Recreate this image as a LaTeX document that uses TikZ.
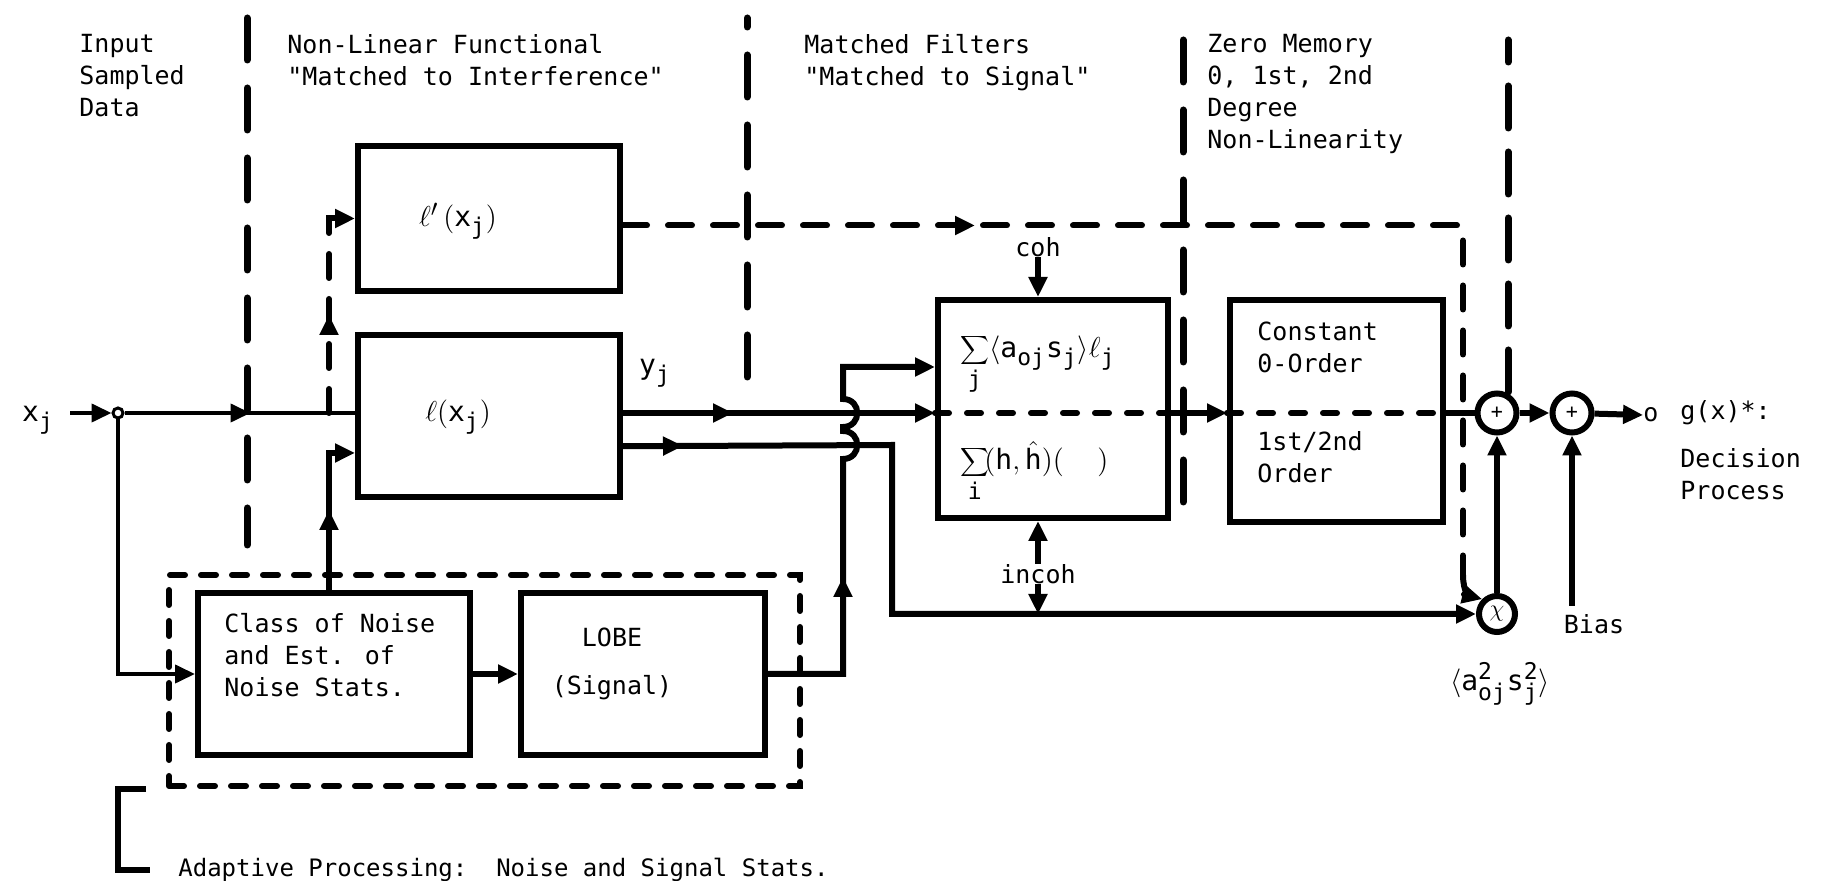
\documentclass[tikz,border=0pt]{standalone}
\usepackage{fontspec}
\setmainfont{DejaVu Sans Mono}
\usetikzlibrary{arrows.meta,decorations.markings,calc}
\DeclareMathSizes{12.5}{12.5}{10.5}{8}
\DeclareMathSizes{14}{14}{11.5}{9}
\newcommand\mj{\mathrm{j}}
\newcommand\qq{\textquotedbl}
\begin{document}
\begin{tikzpicture}[x=0.5pt,y=-0.5pt,
  every node/.style={font=\fontsize{12.5}{16}\selectfont},
  blk/.style={draw, line width=3pt, inner sep=0pt, rectangle},
  lbl/.style={align=left, inner sep=0pt, anchor=north west},
  txt/.style={inner sep=0pt},
  big/.style={font=\fontsize{14}{16}\selectfont},
  wire/.style={line width=3pt},
  thinwire/.style={line width=2pt},
  arr/.style={-{Triangle[length=10pt,width=9pt]}},
  midarr/.style={postaction={decorate},decoration={markings,mark=at position #1 with {\arrow{Triangle[length=10pt,width=9pt]}}}},
  sep/.style={line width=3.5pt, line cap=round, dash pattern=on 21pt off 14pt},
  dbox/.style={draw, line width=3pt, line cap=round, dash pattern=on 7.5pt off 8pt, inner sep=0pt},
  dline/.style={line width=3pt, line cap=round, dash pattern=on 12pt off 10.5pt},
  innerdash/.style={line width=3pt, line cap=round, dash pattern=on 7pt off 9pt},
  sumc/.style={circle, draw, line width=3pt, minimum size=19.5pt, inner sep=0pt, font=\fontsize{10}{10}\selectfont},
]
\useasboundingbox (0,0) rectangle (1828,881);

% column headings
\node[lbl] (hin) at (79,34) {Input\\Sampled\\Data};
\node[lbl] (hnl) at (287,34) {Non-Linear Functional\\\qq Matched to Interference\qq};
\node[lbl] (hmf) at (804,34) {Matched Filters\\\qq Matched to Signal\qq};
\node[lbl] (hzm) at (1207,34) {Zero Memory\\0, 1st, 2nd\\Degree\\Non-Linearity};

% separators
\draw[sep] (247,18) -- (247,545);
\draw[sep] (747,377) -- (747,18);
\draw[sep] (1183,40) -- (1183,522);

% boxes
\node[blk, minimum width=131pt, minimum height=72.5pt] (lpbox) at (489,218.5) {};
\node[blk, minimum width=131pt, minimum height=81pt] (lbox) at (489,416) {};
\node[blk, minimum width=115pt, minimum height=109pt] (mfbox) at (1053,409) {};
\node[blk, minimum width=106.5pt, minimum height=111pt] (zmbox) at (1336.5,411) {};
\node[dbox, minimum width=315.5pt, minimum height=105.5pt] (adapt) at (484.5,680.5) {};
\node[blk, minimum width=136pt, minimum height=81pt] (cls) at (334,674) {};
\node[blk, minimum width=122pt, minimum height=81pt] (lobe) at (643,674) {};

% box texts
\node[txt, big] (lptxt) at (458,221) {$\ell'\,(\mathrm{x}_{\mj})$};
\node[txt, big] (ltxt) at (458,417) {$\ell(\mathrm{x}_{\mj})$};
\node[txt, big, anchor=base west] (mfup) at (960,358) {$\displaystyle\sum_{\mj}\!\big\langle\mathrm{a}_{\mathrm{oj}}\mathrm{s}_{\mj}\big\rangle\ell_{\mj}$};
\node[txt, big, anchor=base west] (mflo) at (960,470) {$\displaystyle\sum_{\mathrm{i}}\!(\mathrm{h},\hat{\mathrm{h}})(\ \ )$};
\node[lbl] (zmup) at (1257,322) {Constant\\0-Order};
\node[lbl] (zmlo) at (1257,431) {1st/2nd\\Order};
\node[lbl] (clstxt) at (224,613) {Class of Noise\\and Est. of\\Noise Stats.};
\node[txt, align=center] (lobetxt) at (612,664) {LOBE\\[8pt](Signal)};

% other labels
\node[txt, big] (xj) at (38,420) {$\mathrm{x}_{\mj}$};
\node[txt, big] (yj) at (655,373) {$\mathrm{y}_{\mj}$};
\node[txt] (coh) at (1038,247) {coh};
\node[txt] (incoh) at (1038,574) {incoh};
\node[txt] (bias) at (1594,624) {Bias};
\node[txt, big] (aos) at (1500,684) {$\big\langle\mathrm{a}^{\mathrm{2}}_{\mathrm{oj}}\mathrm{s}^{\mathrm{2}}_{\mj}\big\rangle$};
\node[txt] (outo) at (1651,415) {o};
\node[txt, anchor=west] (gx) at (1680,413) {g(x)*:};
\node[lbl] (dec) at (1680,448) {Decision\\Process};
\node[txt, anchor=west, font=\fontsize{12}{16}\selectfont] (adtxt) at (178,870) {Adaptive Processing:~~Noise and Signal Stats.};

% junction and summing nodes
\node[circle, draw, line width=1.5pt, fill=white, minimum size=5pt, inner sep=0pt] (J) at (118,413) {};
\node[sumc] (S1) at (1497,413) {+};
\node[sumc] (S2) at (1572,413) {+};
\node[sumc, minimum size=18pt, font=\fontsize{12.5}{12.5}\selectfont] (M) at (1497,614) {$\chi$};

\draw[sep, dash pattern=on 21pt off 12pt] (1508,392) -- (1508,40);

% coordinates
\coordinate (xs) at (70,413);
\coordinate (br1) at (329,413);
\coordinate (k1) at (892,445);
\coordinate (k2) at (1463,0);
\coordinate (k3) at (1463,575);
\coordinate (v0) at (843,674);
\coordinate (v3) at (843,367);

% input
\draw[thinwire, arr] (xs) -- (J.west);
\draw[thinwire, midarr=63pt] (J.east) -- (J -| lbox.west);
\draw[thinwire, arr] (J.south) |- (cls.west);

% branches to l' and l
\draw[dline, arr, midarr=49pt] (br1) |- (lpbox.west);
\draw[wire, arr, midarr=40pt] (cls.north -| br1) |- ($(lbox.south west)!0.28!(lbox.north west)$);

% l outputs
\draw[wire, arr, midarr=55pt] (J -| lbox.east) -- (J -| mfbox.west);
\draw[wire, arr, midarr=30pt] ($(lbox.south east)!0.32!(lbox.north east)$) -- (k1) |- (M);

% LOBE output with hops
\draw[wire, arr] (cls) -- (lobe);
\draw[wire, arr, midarr=86pt] (lobe.east) -- (v0) -- (843,459)
  .. controls (862,459) and (862,431) .. (843,431) -- (843,427)
  .. controls (862,427) and (862,399) .. (843,399) -- (v3) -- (v3 -| mfbox.west);

% l' output
\draw[dline, midarr=176pt] ($(lpbox.east)+(0,7)$) -| (k3);
\draw[dline, arr] (k3) .. controls (1463,592) and (1470,596) .. (M.135);

% matched filter and zero memory
\draw[innerdash] (J -| mfbox.west) -- (J -| mfbox.east);
\draw[wire, arr] (J -| mfbox.east) -- (J -| zmbox.west);
\draw[innerdash] (J -| zmbox.west) -- (J -| zmbox.east);
\draw[wire] (J -| zmbox.east) -- (S1.west);
\draw[wire, arr] (coh.south) -- (coh.south |- mfbox.north);
\draw[wire, arr] (incoh.north) -- (incoh.north |- mfbox.south);
\draw[wire, arr] (incoh.south) -- (incoh.south |- M);

% output stage
\draw[wire, arr] (M) -- (S1);
\draw[wire, arr] (S1) -- (S2);
\draw[wire, arr] (S2) -- (outo.west);
\draw[wire, arr] ([yshift=4pt]bias.north -| S2) -- (S2);

% adaptive bracket
\draw[wire] ([xshift=-10pt]adapt.south west) -| ([xshift=-30pt]adtxt.west) -- ([xshift=-14pt]adtxt.west);
\end{tikzpicture}
\end{document}
